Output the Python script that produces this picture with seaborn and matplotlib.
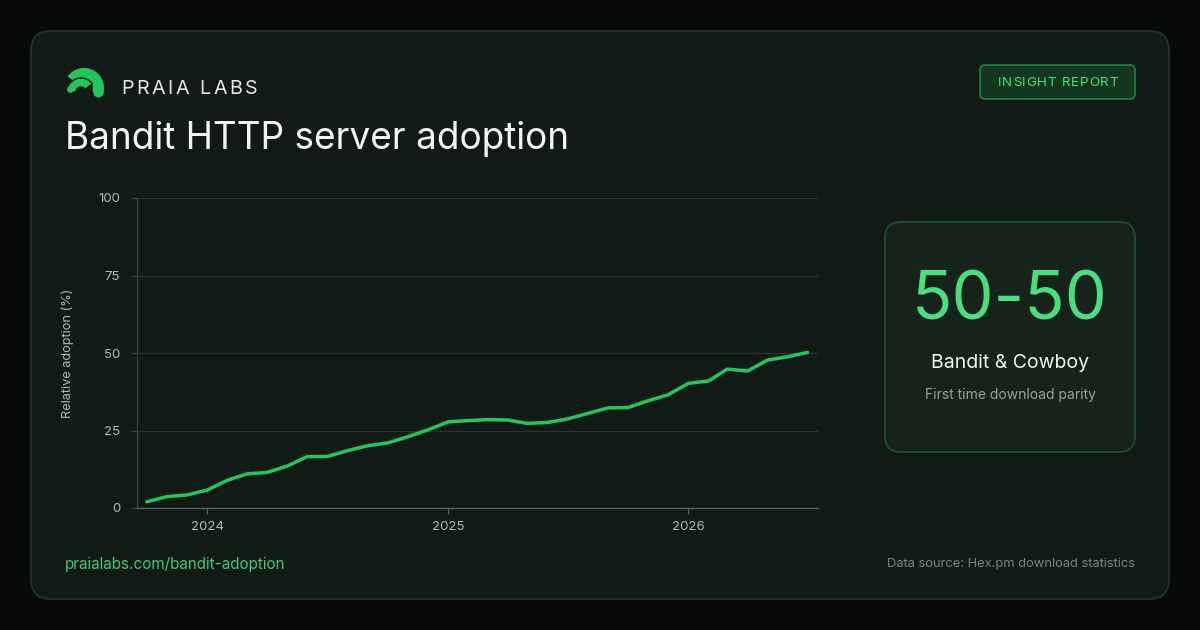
import pandas as pd
import seaborn as sns
import matplotlib.pyplot as plt
import matplotlib.dates as mdates
from matplotlib.patches import FancyBboxPatch, Wedge, Circle

months = pd.date_range('2023-10-01', '2026-07-01', freq='MS')
adoption = [2.0, 3.7, 4.2, 5.8, 9.0, 11.0, 11.5, 13.5, 16.6, 16.6, 18.5, 20.1,
            21.0, 23.0, 25.2, 27.8, 28.2, 28.5, 28.4, 27.3, 27.6, 28.7, 30.5, 32.3,
            32.4, 34.6, 36.5, 40.2, 41.0, 44.8, 44.2, 47.7, 48.8, 50.2]
y_ticks = [0, 25, 50, 75, 100]

title = 'Bandit HTTP server adoption'
brand = 'PRAIA LABS'
badge = 'INSIGHT REPORT'
stat_value = '50-50'
stat_label = 'Bandit & Cowboy'
stat_note = 'First time download parity'
footer_url = 'praialabs.com/bandit-adoption'
footer_src = 'Data source: Hex.pm download statistics'

sns.set_theme(style='dark')
plt.rcParams['font.family'] = ['Inter', 'DejaVu Sans']

GREEN = '#22c55e'
LIGHT_GREEN = '#4ade80'
CARD = '#111a14'

fig = plt.figure(figsize=(12, 6.3), dpi=100)
fig.patch.set_facecolor('#070a08')

# background layer in pixel coordinates
bg = fig.add_axes([0, 0, 1, 1])
bg.set_xlim(0, 1200)
bg.set_ylim(630, 0)
bg.axis('off')

bg.add_patch(FancyBboxPatch((31, 31), 1138, 568, boxstyle='round,pad=0,rounding_size=20',
                            fc=CARD, ec='#1f3024', lw=1.5))
bg.add_patch(FancyBboxPatch((980, 65), 155, 34, boxstyle='round,pad=0,rounding_size=5',
                            fc='#13361f', ec='#1f7a3c', lw=1.3))
bg.add_patch(FancyBboxPatch((885, 222), 250, 230, boxstyle='round,pad=0,rounding_size=16',
                            fc='#15231a', ec='#1d4a2b', lw=1.5))

# logo
bg.add_patch(Wedge((84, 88), 20, 215, 382, width=11, fc=GREEN, ec='none'))
bg.add_patch(Circle((98.5, 92.5), 5, fc=GREEN, ec='none'))
bg.add_patch(Wedge((81, 92), 14, 180, 325, width=9, fc=GREEN, ec=CARD, lw=1.0))
bg.add_patch(Circle((70.5, 89.5), 3.4, fc=GREEN, ec='none'))

renderer = fig.canvas.get_renderer()


def text_width(s, **kw):
    t = bg.text(0, 0, s, **kw)
    w = t.get_window_extent(renderer).width
    t.remove()
    return w


def spaced_text(x, y, s, spacing, **kw):
    ref = text_width('x', **kw)
    for i, ch in enumerate(s):
        off = text_width(s[:i] + 'x', **kw) - ref if i else 0
        bg.text(x + off + i * spacing, y, ch, **kw)


spaced_text(121, 87, brand, 2.6, fontsize=14.2, color='#e6ebe7', va='center_baseline')
spaced_text(998, 82, badge, 0.75, fontsize=9.6, color=LIGHT_GREEN, va='center_baseline')

bg.text(65, 135, title, fontsize=26.6, color='#f2f5f3', va='center_baseline')

bg.text(1010, 295, stat_value, fontsize=48, color=LIGHT_GREEN, ha='center', va='center_baseline')
bg.text(1010, 361, stat_label, fontsize=14, color='#f2f5f3', ha='center', va='center_baseline')
bg.text(1010, 393, stat_note, fontsize=10, color='#9aa09c', ha='center', va='center_baseline')

bg.text(65, 563, footer_url, fontsize=11, color='#43c774', va='center_baseline')
bg.text(1135, 563, footer_src, fontsize=9.3, color='#7d847f', ha='right', va='center_baseline')

# chart
ax = fig.add_axes([137 / 1200, 122 / 630, 681 / 1200, 310 / 630])
ax.set_facecolor('none')
sns.lineplot(x=months, y=adoption, ax=ax, color=GREEN, linewidth=2.5,
             solid_capstyle='round', solid_joinstyle='round')

ax.set_ylim(0, 100)
ax.set_yticks(y_ticks)
ax.set_xlim(months[0] - pd.Timedelta(days=15), months[-1] + pd.Timedelta(days=16))
ax.xaxis.set_major_locator(mdates.YearLocator())
ax.xaxis.set_major_formatter(mdates.DateFormatter('%Y'))

ax.grid(axis='y', color='#2b332d', linewidth=0.9)
ax.grid(axis='x', visible=False)
for side in ['top', 'right']:
    ax.spines[side].set_visible(False)
ax.spines['left'].set_visible(True)
ax.spines['left'].set_color('#3c433e')
ax.spines['bottom'].set_visible(True)
ax.spines['bottom'].set_color('#5a605c')
ax.spines['left'].set_linewidth(0.9)
ax.spines['bottom'].set_linewidth(1.0)

ax.tick_params(axis='y', length=4, width=0.9, color='#3c433e', pad=8, labelsize=9.5,
               labelcolor='#b4b9b5', left=True)
ax.tick_params(axis='x', length=4, width=0.9, color='#5a605c', pad=5, labelsize=9.5,
               labelcolor='#b4b9b5', bottom=True)

ax.set_xlabel('')
ax.set_ylabel('Relative adoption (%)', fontsize=9.2, color='#b4b9b5')
ax.yaxis.set_label_coords(-0.092, 0.5)

fig.savefig('out.png', dpi=100, facecolor=fig.get_facecolor())
